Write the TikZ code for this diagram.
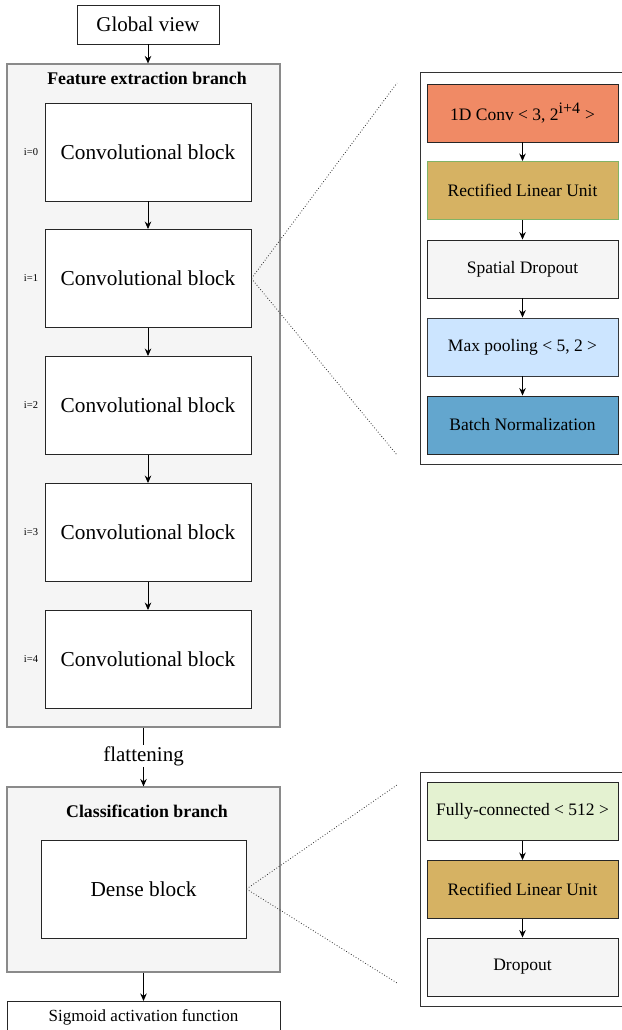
\documentclass[tikz,border=0pt]{standalone}
\usepackage{fontspec}
\setmainfont{Liberation Serif}
\usetikzlibrary{arrows.meta}
\definecolor{convfill}{HTML}{F08A65}
\definecolor{relufill}{HTML}{D6B263}
\definecolor{relugreen}{HTML}{82B366}
\definecolor{greyfill}{HTML}{F5F5F5}
\definecolor{poolfill}{HTML}{CCE5FF}
\definecolor{bnfill}{HTML}{63A6CE}
\definecolor{fcfill}{HTML}{E4F2D1}
\definecolor{framegrey}{HTML}{8A8A8A}
\definecolor{darkline}{HTML}{36393D}
\tikzset{
  branch/.style={draw=framegrey, fill=greyfill, line width=1.1pt, inner sep=0, minimum width=273, minimum height=#1},
  convbox/.style={draw=black!85, fill=white, line width=0.9pt, inner sep=0, minimum width=206, minimum height=98,
    font=\fontsize{21.3}{25}\selectfont},
  layer/.style={draw=black!85, line width=0.9pt, inner sep=0, minimum width=191, minimum height=58,
    font=\fontsize{17.5}{20}\selectfont},
  panel/.style={draw=black!80, line width=1pt},
  flow/.style={-{Stealth[length=7.5pt,width=6.5pt]}, line width=0.9pt},
  zoomline/.style={dotted, line width=0.8pt, black!80},
  idx/.style={font=\fontsize{10.5}{12}\selectfont},
  title/.style={font=\fontsize{17.8}{20}\selectfont\bfseries},
}
\begin{document}
\begin{tikzpicture}[x=1pt,y=-1pt]
\useasboundingbox (0,0) rectangle (621,1030);

% input
\node[draw=black!85, line width=0.9pt, inner sep=0, minimum width=142, minimum height=39,
  font=\fontsize{21}{25}\selectfont] (gv) at (148,24.5) {Global view};

% feature extraction branch
\node[branch=663] (feb) at (143.5,395.5) {};
\node[title] (febt) at (147,78) {Feature extraction branch};
\foreach \i/\y in {0/152,1/278.5,2/405.5,3/532.5,4/659.5}{
  \node[convbox] (c\i) at (148,\y) {Convolutional block};
  \node[idx] (l\i) at (31,\y) {i=\i};
}
\draw[flow] (gv.south) -- (gv.south |- feb.north);
\foreach \a/\b in {0/1,1/2,2/3,3/4}{
  \draw[flow] (c\a.south) -- (c\b.north);
}

% flattening and classification branch
\node[font=\fontsize{21}{25}\selectfont, inner sep=1pt] (flat) at (143.5,756) {flattening};
\node[branch=185] (cb) at (143.5,879.5) {};
\node[title] (cbt) at (147,811) {Classification branch};
\node[convbox, minimum width=205] (dense) at (143.5,889) {Dense block};
\draw[line width=0.9pt] (flat.north |- feb.south) -- (flat.north);
\draw[flow] (flat.south) -- (flat.south |- cb.north);

\node[draw=black!85, line width=0.9pt, inner sep=0, minimum width=273, minimum height=32,
  anchor=north] (sig) at (143.5,1001) {};
\node[font=\fontsize{17}{20}\selectfont] (sigt) at (143.5,1017.5) {Sigmoid activation function};
\draw[flow] (cb.south) -- (sig.north);

% convolutional block detail
\draw[panel] (420,73) rectangle (623,464);
\node[layer, fill=convfill] (conv) at (522.5,113) {1D Conv < 3, 2\textsuperscript{\fontsize{16}{16}\selectfont i+4} >};
\node[layer, fill=relufill, draw=relugreen] (relu1) at (522.5,190.5) {Rectified Linear Unit};
\node[layer, fill=greyfill] (sdrop) at (522.5,269) {Spatial Dropout};
\node[layer, fill=poolfill, draw=darkline] (pool) at (522.5,347) {Max pooling < 5, 2 >};
\node[layer, fill=bnfill] (bn) at (522.5,425) {Batch Normalization};
\draw[flow] (conv) -- (relu1);
\draw[flow] (relu1) -- (sdrop);
\draw[flow] (sdrop) -- (pool);
\draw[flow] (pool) -- (bn);

\coordinate (z1a) at (397,83);
\coordinate (z1b) at (397,455);
\draw[zoomline] (c1.east) -- (z1a);
\draw[zoomline] (c1.east) -- (z1b);

% dense block detail
\draw[panel] (420,772) rectangle (623,1006);
\node[layer, fill=fcfill] (fc) at (522.5,811.5) {Fully-connected < 512 >};
\node[layer, fill=relufill] (relu2) at (522.5,889.5) {Rectified Linear Unit};
\node[layer, fill=greyfill] (drop) at (522.5,967) {Dropout};
\draw[flow] (fc) -- (relu2);
\draw[flow] (relu2) -- (drop);

\coordinate (z2a) at (397,785);
\coordinate (z2b) at (397,983);
\draw[zoomline] (dense.east) -- (z2a);
\draw[zoomline] (dense.east) -- (z2b);
\end{tikzpicture}
\end{document}
